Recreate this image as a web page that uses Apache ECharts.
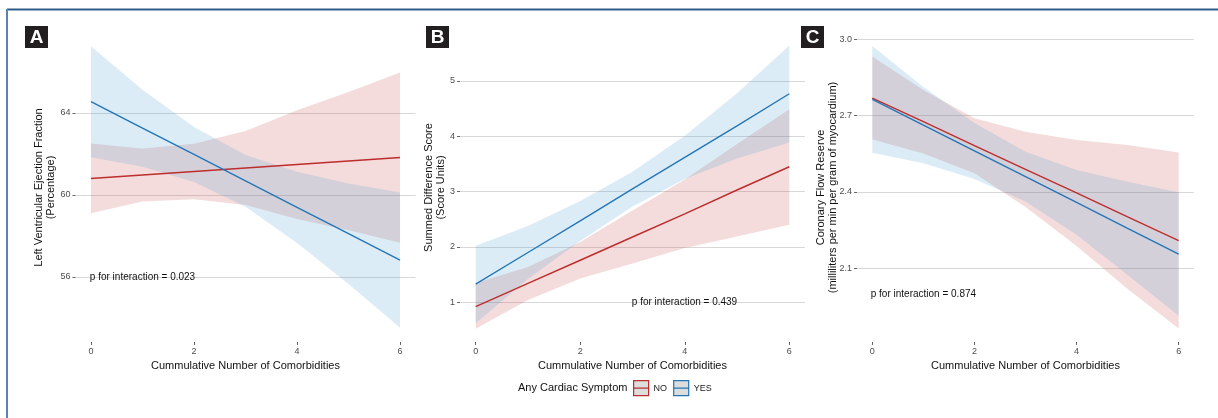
<!DOCTYPE html>
<html>
<head>
<meta charset="utf-8">
<title>Comorbidities panels</title>
<script src="https://cdn.jsdelivr.net/npm/echarts@6/dist/echarts.min.js"></script>
<style>
  html, body { margin: 0; padding: 0; background: #fff; }
  #main { width: 1218px; height: 418px; }
</style>
</head>
<body>
<div id="main"></div>
<script>
// x values (cumulative number of comorbidities)
var comorbidities = [0, 1, 2, 3, 4, 5, 6];
var xTicks = [0, 2, 4, 6];

// A: left ventricular ejection fraction
var lvefTicks = [56, 60, 64];
var lvefNoFit = [60.80, 60.97, 61.14, 61.31, 61.48, 61.65, 61.82];
var lvefNoLow = [59.10, 59.68, 59.79, 59.51, 58.83, 58.28, 57.67];
var lvefNoHigh = [62.50, 62.26, 62.49, 63.11, 64.13, 65.02, 65.97];
var lvefYesFit = [64.54, 63.25, 61.97, 60.68, 59.39, 58.11, 56.82];
var lvefYesLow = [61.83, 61.37, 60.63, 59.42, 57.65, 55.66, 53.52];
var lvefYesHigh = [67.25, 65.13, 63.31, 61.94, 61.13, 60.56, 60.12];

// B: summed difference score
var sdsTicks = [1, 2, 3, 4, 5];
var sdsNoFit = [0.92, 1.34, 1.76, 2.18, 2.60, 3.03, 3.45];
var sdsNoLow = [0.52, 1.04, 1.43, 1.70, 1.98, 2.19, 2.40];
var sdsNoHigh = [1.35, 1.64, 2.09, 2.66, 3.22, 3.86, 4.49];
var sdsYesFit = [1.33, 1.90, 2.47, 3.05, 3.62, 4.19, 4.77];
var sdsYesLow = [0.62, 1.42, 2.11, 2.73, 3.23, 3.60, 3.89];
var sdsYesHigh = [2.02, 2.38, 2.83, 3.36, 4.01, 4.78, 5.64];

// C: coronary flow reserve
var cfrTicks = [2.1, 2.4, 2.7, 3.0];
var cfrNoFit = [2.769, 2.676, 2.582, 2.489, 2.396, 2.302, 2.209];
var cfrNoLow = [2.606, 2.551, 2.474, 2.341, 2.188, 2.019, 1.863];
var cfrNoHigh = [2.932, 2.801, 2.690, 2.637, 2.604, 2.585, 2.555];
var cfrYesFit = [2.764, 2.663, 2.561, 2.460, 2.359, 2.257, 2.156];
var cfrYesLow = [2.554, 2.513, 2.451, 2.362, 2.232, 2.074, 1.913];
var cfrYesHigh = [2.974, 2.813, 2.671, 2.558, 2.486, 2.440, 2.399];

var pLabels = ['p for interaction = 0.023', 'p for interaction = 0.439', 'p for interaction = 0.874'];

var RED = '#bd2d2d';
var BLUE = '#2376b7';
var RED_FILL = 'rgba(200,80,80,0.2)';
var BLUE_FILL = 'rgba(80,160,210,0.2)';
var FONT = 'Liberation Sans, Arial, sans-serif';

// confidence ribbon, drawn once as one polygon
function band(idx, low, high, fill) {
    return {
        type: 'custom',
        xAxisIndex: idx,
        yAxisIndex: idx,
        silent: true,
        z: 1,
        data: comorbidities.map(function (x, i) { return [x, low[i], high[i]]; }),
        encode: { x: 0, y: [1, 2] },
        renderItem: function (params, api) {
            if (params.dataIndex !== 0) return;
            var top = [], bottom = [];
            for (var i = 0; i < comorbidities.length; i++) {
                top.push(api.coord([comorbidities[i], high[i]]));
                bottom.unshift(api.coord([comorbidities[i], low[i]]));
            }
            return {
                type: 'polygon',
                shape: { points: top.concat(bottom) },
                style: { fill: fill }
            };
        }
    };
}

function fit(name, idx, values, color) {
    return {
        type: 'line',
        name: name,
        xAxisIndex: idx,
        yAxisIndex: idx,
        silent: true,
        z: 3,
        symbol: 'none',
        data: comorbidities.map(function (x, i) { return [x, values[i]]; }),
        lineStyle: { color: color, width: 1.4 },
        itemStyle: { color: color }
    };
}

function xAxis(idx) {
    return {
        gridIndex: idx,
        type: 'value',
        min: -0.3,
        max: 6.3,
        axisLine: { show: false, onZero: false },
        axisTick: { show: true, length: 3, customValues: xTicks, lineStyle: { color: '#666' } },
        axisLabel: { customValues: xTicks, fontSize: 9, color: '#4d4d4d', margin: 5 },
        splitLine: { show: false },
        name: 'Cummulative Number of Comorbidities',
        nameLocation: 'middle',
        nameGap: 15,
        nameTextStyle: { fontSize: 11, color: '#111' }
    };
}

function yAxis(idx, min, max, ticks, name, gap, digits) {
    return {
        gridIndex: idx,
        type: 'value',
        min: min,
        max: max,
        axisLine: { show: false, onZero: false },
        axisTick: { show: true, length: 3, customValues: ticks, lineStyle: { color: '#666' } },
        axisLabel: {
            customValues: ticks, fontSize: 9, color: '#4d4d4d', margin: 5,
            formatter: function (v) { return v.toFixed(digits); }
        },
        splitLine: { show: true, lineStyle: { color: '#d8d8d8', width: 1 } },
        name: name,
        nameLocation: 'middle',
        nameGap: gap,
        nameMoveOverlap: false,
        nameTextStyle: { fontSize: 11, lineHeight: 12, color: '#111' }
    };
}

function panelTag(letter, x) {
    return [
        { type: 'rect', shape: { x: x, y: 26, width: 23, height: 22 }, style: { fill: '#231f20' } },
        { type: 'text', x: x + 11.5, y: 37.5, style: { text: letter, fill: '#fff', fontSize: 19, fontWeight: 'bold', fontFamily: FONT, align: 'center', verticalAlign: 'middle' } }
    ];
}

function note(text, x, y) {
    return { type: 'text', x: x, y: y, z: 10, style: { text: text, fill: '#111', fontSize: 10, fontFamily: FONT, align: 'center', verticalAlign: 'middle' } };
}

var myChart = echarts.init(document.getElementById('main'), null, { renderer: 'canvas' });

myChart.setOption({
    animation: false,
    textStyle: { fontFamily: FONT },
    grid: [
        { left: 75.5, top: 33, width: 340, height: 309 },
        { left: 460, top: 33, width: 345, height: 309 },
        { left: 857, top: 33, width: 337, height: 309 }
    ],
    xAxis: [xAxis(0), xAxis(1), xAxis(2)],
    yAxis: [
        yAxis(0, 52.83, 67.89, lvefTicks, 'Left Ventricular Ejection Fraction\n(Percentage)', 18.5, 0),
        yAxis(1, 0.282, 5.868, sdsTicks, 'Summed Difference Score\n(Score Units)', 13, 0),
        yAxis(2, 1.8102, 3.0248, cfrTicks, 'Coronary Flow Reserve\n(milliliters per min per gram of myocardium)', 18.5, 1)
    ],
    legend: {
        left: 633,
        top: 380,
        padding: 0,
        itemWidth: 15,
        itemHeight: 15,
        itemGap: 6,
        selectedMode: false,
        icon: 'path://M0,0L16,0L16,16L0,16Z M0,8L16,8',
        textStyle: { fontSize: 9, color: '#222' },
        data: [
            { name: 'NO', itemStyle: { color: '#dddddd', borderColor: RED, borderWidth: 1.2 } },
            { name: 'YES', itemStyle: { color: '#dddddd', borderColor: BLUE, borderWidth: 1.2 } }
        ]
    },
    series: [
        band(0, lvefNoLow, lvefNoHigh, RED_FILL),
        band(0, lvefYesLow, lvefYesHigh, BLUE_FILL),
        fit('NO', 0, lvefNoFit, RED),
        fit('YES', 0, lvefYesFit, BLUE),

        band(1, sdsNoLow, sdsNoHigh, RED_FILL),
        band(1, sdsYesLow, sdsYesHigh, BLUE_FILL),
        fit('NO', 1, sdsNoFit, RED),
        fit('YES', 1, sdsYesFit, BLUE),

        band(2, cfrNoLow, cfrNoHigh, RED_FILL),
        band(2, cfrYesLow, cfrYesHigh, BLUE_FILL),
        fit('NO', 2, cfrNoFit, RED),
        fit('YES', 2, cfrYesFit, BLUE)
    ],
    graphic: [
        // outer frame
        { type: 'line', shape: { x1: 7, y1: 9.5, x2: 1218, y2: 9.5 }, style: { stroke: '#2e5c8a', lineWidth: 2 } },
        { type: 'line', shape: { x1: 7, y1: 9, x2: 7, y2: 418 }, style: { stroke: '#5a84b0', lineWidth: 2 } }
    ].concat(panelTag('A', 25), panelTag('B', 426), panelTag('C', 801), [
        note(pLabels[0], 142.5, 277),
        note(pLabels[1], 684.5, 302.3),
        note(pLabels[2], 923.4, 294.3),
        { type: 'text', x: 518, y: 388, style: { text: 'Any Cardiac Symptom', fill: '#111', fontSize: 11, fontFamily: FONT, align: 'left', verticalAlign: 'middle' } }
    ])
});
</script>
</body>
</html>
